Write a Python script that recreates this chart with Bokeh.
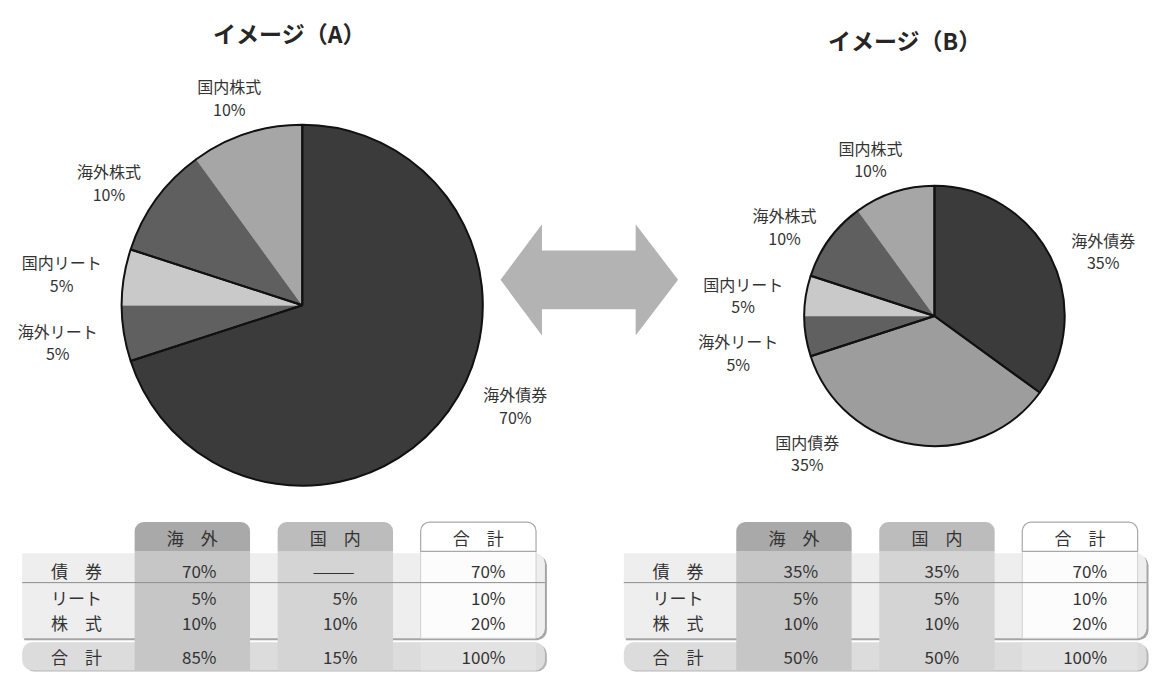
import math
from bokeh.plotting import figure
from bokeh.models import Range1d, ColumnDataSource
from bokeh.embed import file_html
from bokeh.resources import INLINE
from bokeh.core.properties import value

# ---------------- data ----------------
titles = ["イメージ（A）", "イメージ（B）"]
asset_rows = ["債券", "リート", "株式"]
row_labels = ["債\u3000券", "リート", "株\u3000式"]
total_label = "合\u3000計"
col_labels = ["海\u3000外", "国\u3000内", "合\u3000計"]

a_overseas = [70, 5, 10]
a_domestic = [0, 5, 10]
b_overseas = [35, 5, 10]
b_domestic = [35, 5, 10]

slice_names = ["海外債券", "国内債券", "海外リート", "国内リート", "海外株式", "国内株式"]
slice_colors = ["#3b3b3b", "#9d9d9d", "#606060", "#c9c9c9", "#5f5f5f", "#a6a6a6"]

# ---------------- layout ----------------
FONT = value("Noto Sans CJK JP")
W, H = 1149, 672
REF_W, REF_H = 1165, 688


def Y(y):
    return REF_H - y


panels = [
    dict(ov=a_overseas, dom=a_domestic, title=titles[0], title_xy=(293, 33),
         center=(306, 312), r=183, x0=22,
         labels={"海外債券": (522, 403), "国内債券": (0, 0), "海外リート": (58, 338),
                 "国内リート": (62, 268), "海外株式": (110, 175), "国内株式": (232, 88)}),
    dict(ov=b_overseas, dom=b_domestic, title=titles[1], title_xy=(917, 40),
         center=(947, 323), r=132, x0=632,
         labels={"海外債券": (1118, 245), "国内債券": (818, 452), "海外リート": (748, 349),
                 "国内リート": (753, 290), "海外株式": (795, 220), "国内株式": (882, 151)}),
]

p = figure(width=W, height=H, x_range=Range1d(0, REF_W), y_range=Range1d(0, REF_H),
           output_backend="svg", toolbar_location=None, min_border=0)
p.axis.visible = False
p.grid.visible = False
p.outline_line_color = None
p.background_fill_color = "white"
p.border_fill_color = "white"

# ---------------- arrow ----------------
ax = [507, 549, 549, 644, 644, 687, 644, 644, 549, 549]
ay = [286, 229, 256, 256, 229, 286, 343, 316, 316, 343]
p.patch(ax, [Y(v) for v in ay], fill_color="#b3b3b3", line_color=None)

for pn in panels:
    ov, dom = pn["ov"], pn["dom"]
    cx, cy = pn["center"]
    r = pn["r"]
    vals = []
    for i in range(len(asset_rows)):
        vals += [ov[i], dom[i]]
    total = float(sum(vals))

    # title
    tx, ty = pn["title_xy"]
    p.text([tx], [Y(ty)], text=[pn["title"]], text_font=FONT, text_font_size="23px",
           text_font_style="bold", text_align="center", text_baseline="middle",
           text_color="#262626")

    # pie slices: clockwise from 12 o'clock
    cum = 0.0
    starts, ends, fills = [], [], []
    bounds = {}
    for name, v, c in zip(slice_names, vals, slice_colors):
        c0 = cum / total
        cum += v
        c1 = cum / total
        bounds[name] = (c0, c1)
        if v <= 0:
            continue
        starts.append(math.pi / 2 - 2 * math.pi * c1)
        ends.append(math.pi / 2 - 2 * math.pi * c0)
        fills.append(c)
    src = ColumnDataSource(dict(x=[cx] * len(starts), y=[Y(cy)] * len(starts),
                                s=starts, e=ends, c=fills))
    p.wedge(x="x", y="y", radius=r, start_angle="s", end_angle="e", fill_color="c",
            line_color="c", line_width=0.6, source=src)

    # outlines: each bond slice, and each REIT / equity group
    groups = []
    for name in ["海外債券", "国内債券"]:
        c0, c1 = bounds[name]
        if c1 > c0:
            groups.append((c0, c1))
    groups.append((bounds["海外リート"][0], bounds["国内リート"][1]))
    groups.append((bounds["海外株式"][0], bounds["国内株式"][1]))
    p.wedge(x=[cx] * len(groups), y=[Y(cy)] * len(groups), radius=r,
            start_angle=[math.pi / 2 - 2 * math.pi * g[1] for g in groups],
            end_angle=[math.pi / 2 - 2 * math.pi * g[0] for g in groups],
            fill_color=None, line_color="#111111", line_width=2)

    # pie labels
    for name, v in zip(slice_names, vals):
        if v <= 0:
            continue
        lx, ly = pn["labels"][name]
        p.text([lx, lx], [Y(ly), Y(ly + 23)], text=[name, f"{v}%"], text_font=FONT,
               text_font_size="16px", text_align="center", text_baseline="middle",
               text_color="#333333")

    # ---------------- table ----------------
    x0 = pn["x0"]
    band_r = x0 + 530
    cols = [(x0 + 114, x0 + 231), (x0 + 259, x0 + 376), (x0 + 404, x0 + 521)]
    head_top, head_bot = 534, 564
    body_top, body_bot = 566, 653
    tot_top, tot_bot = 657, 686
    row_y = [584, 611, 637]
    tot_y = 672

    # shadows
    p.quad(left=[x0 + 2], right=[band_r + 2], top=[Y(body_top + 2)], bottom=[Y(body_bot + 2)],
           fill_color="#a5a5a5", line_color=None, border_radius=(0, 10, 10, 0))
    p.quad(left=[x0 + 2], right=[band_r + 2], top=[Y(tot_top + 2)], bottom=[Y(tot_bot + 1)],
           fill_color="#b5b5b5", line_color=None, border_radius=10)
    # bands
    p.quad(left=[x0], right=[band_r], top=[Y(body_top)], bottom=[Y(body_bot)],
           fill_color="#eeeeee", line_color=None, border_radius=(0, 10, 10, 0))
    p.quad(left=[x0], right=[band_r], top=[Y(tot_top)], bottom=[Y(tot_bot)],
           fill_color="#dcdcdc", line_color=None, border_radius=10)
    # column bodies
    p.quad(left=[cols[0][0]], right=[cols[0][1]], top=[Y(head_bot)], bottom=[Y(tot_bot)],
           fill_color="#c6c6c6", line_color=None)
    p.quad(left=[cols[1][0]], right=[cols[1][1]], top=[Y(head_bot)], bottom=[Y(tot_bot)],
           fill_color="#d4d4d4", line_color=None)
    p.quad(left=[cols[2][0]], right=[cols[2][1]], top=[Y(head_bot)], bottom=[Y(body_bot)],
           fill_color="#fcfcfc", line_color="#d0d0d0", line_width=1)
    p.quad(left=[cols[2][0]], right=[cols[2][1]], top=[Y(tot_top)], bottom=[Y(tot_bot)],
           fill_color="#e2e2e2", line_color=None)
    # headers
    head_fills = ["#a9a9a9", "#bcbcbc", "#ffffff"]
    head_lines = [None, None, "#a8a8a8"]
    for (l, rr), f, lc in zip(cols, head_fills, head_lines):
        p.quad(left=[l], right=[rr], top=[Y(head_top)], bottom=[Y(head_bot)],
               fill_color=f, line_color=lc, line_width=1.2, border_radius=(9, 9, 0, 0))
    # separator under bond row
    p.line([x0, band_r], [Y(596), Y(596)], line_color="#8c8c8c", line_width=1)

    # header texts
    p.text([(l + rr) / 2 for l, rr in cols], [Y(550)] * 3, text=col_labels, text_font=FONT,
           text_font_size="17px", text_align="center", text_baseline="middle",
           text_color="#333333")
    # row labels
    p.text([x0 + 55] * 4, [Y(v) for v in row_y + [tot_y]], text=row_labels + [total_label],
           text_font=FONT, text_font_size="17px", text_align="center", text_baseline="middle",
           text_color="#333333")
    # values
    tots = [o + d for o, d in zip(ov, dom)]
    right_edges = [x0 + 197, x0 + 340, x0 + 490]
    for series, re_ in zip([ov, dom, tots], right_edges):
        txt = [f"{v}%" if v > 0 else "———" for v in series] + [f"{sum(series)}%"]
        xs = [re_ if v > 0 else re_ - 3 for v in series] + [re_]
        p.text(xs, [Y(v) for v in row_y + [tot_y]], text=txt, text_font=FONT,
               text_font_size="17px", text_align="right", text_baseline="middle",
               text_color="#333333")

open("out.html", "w").write(file_html(p, INLINE))
